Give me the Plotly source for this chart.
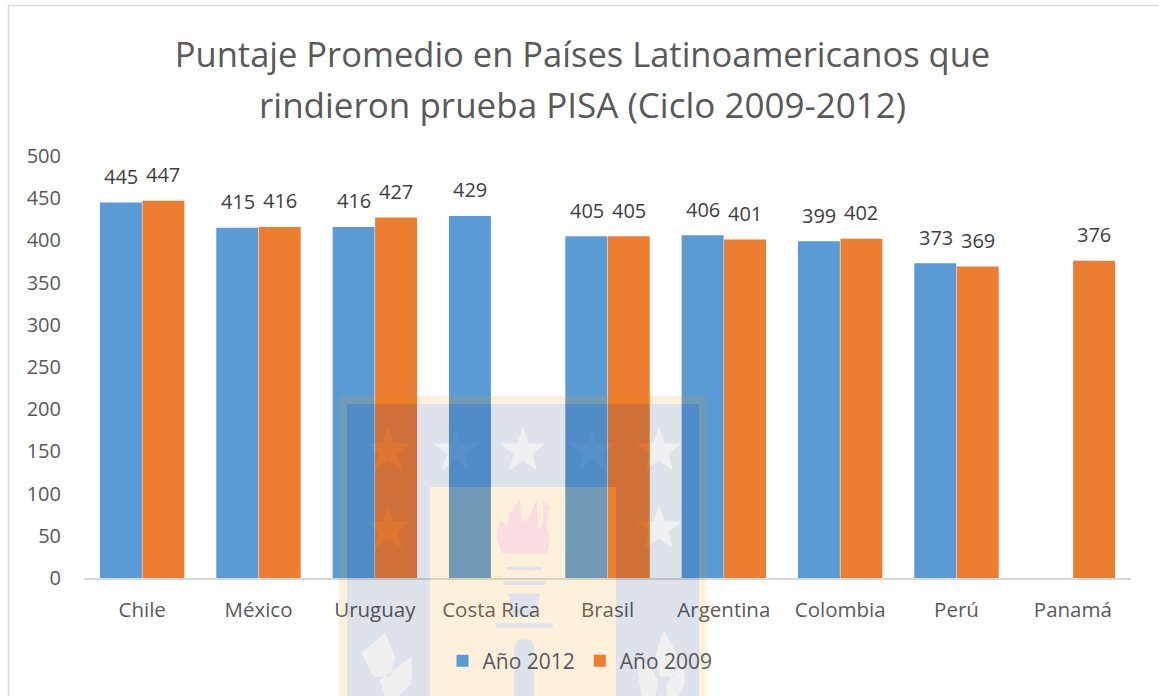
import math
import plotly.graph_objects as go

categories = ["Chile", "México", "Uruguay", "Costa Rica", "Brasil", "Argentina", "Colombia", "Perú", "Panamá"]
values_2012 = [445, 415, 416, 429, 405, 406, 399, 373, None]
values_2009 = [447, 416, 427, None, 405, 401, 402, 369, 376]
series_names = ["Año 2012", "Año 2009"]
title_line_1 = "Puntaje Promedio en Países Latinoamericanos que"
title_line_2 = "rindieron prueba PISA (Ciclo 2009-2012)"
y_ticks = [0, 50, 100, 150, 200, 250, 300, 350, 400, 450, 500]

W, H = 1159, 696
ML, MR, MT, MB = 84, 28, 156, 118
FONT = "Open Sans"
TEXT = "#595959"

def px(x):
    return (x - ML) / (W - ML - MR)

def py(y):
    return 1 - (y - MT) / (H - MT - MB)

def poly(points):
    return "M" + " L".join(f"{px(x):.5f},{py(y):.5f}" for x, y in points) + " Z "

def rect(x0, y0, x1, y1):
    return poly([(x0, y0), (x1, y0), (x1, y1), (x0, y1)])

def star(cx, cy, r=24):
    pts = []
    for i in range(10):
        rad = r if i % 2 == 0 else r * 0.4
        a = -math.pi / 2 + i * math.pi / 5
        pts.append((cx + rad * math.cos(a), cy + rad * math.sin(a)))
    return poly(pts)

def zoomed(points):
    return poly([(330 + x / 3, 390 + y / 3) for x, y in points])

stars = "".join(star(x, y) for x, y in [(388, 451), (456, 451), (523, 451), (592, 451), (659, 451), (388, 529), (659, 529)])
fleurs = "".join(zoomed(p) for p in [
    [(95, 790), (165, 728), (195, 800), (180, 860), (130, 860)],
    [(150, 870), (205, 830), (245, 800), (245, 880), (205, 918), (165, 918)],
    [(915, 800), (965, 830), (985, 880), (975, 918), (935, 918)],
    [(975, 800), (1000, 720), (1040, 790), (1030, 860), (990, 860)],
    [(1010, 880), (1060, 810), (1065, 880), (1045, 918), (1010, 918)],
])
torch = "".join(zoomed(p) for p in [
    [(530, 530), (635, 530), (635, 541), (530, 541)],
    [(520, 573), (645, 573), (645, 585), (520, 585)],
    [(535, 610), (630, 610), (615, 680), (550, 680)],
    [(497, 700), (668, 700), (668, 713), (497, 713)],
    [(552, 918), (552, 770), (565, 748), (600, 748), (613, 770), (613, 918)],
])
flame = zoomed([(515, 490), (500, 440), (510, 390), (530, 410), (545, 360), (570, 330), (575, 400), (600, 380),
                (620, 325), (625, 420), (640, 400), (640, 330), (660, 350), (650, 400), (660, 460), (650, 490)])
center = rect(430, 487, 616, 696)
inner = rect(347, 404, 699, 696)
outer = rect(339, 396, 706, 696)

def overlay(path, color):
    return dict(type="path", xref="paper", yref="paper", path=path, fillcolor=color,
                line=dict(width=0), layer="above")

shapes = [
    dict(type="rect", xref="paper", yref="paper", x0=px(8.5), x1=px(1170), y0=py(5.5), y1=py(710),
         line=dict(color="#D9D9D9", width=1.5), fillcolor="rgba(0,0,0,0)", layer="below"),
    overlay(inner + center + stars + fleurs, "rgba(0,30,100,0.13)"),
    overlay(outer + inner + center + torch + flame, "rgba(250,155,7,0.145)"),
    overlay(torch, "rgba(0,30,100,0.13)"),
    overlay(flame, "rgba(235,50,90,0.17)"),
    overlay(stars + fleurs, "rgba(0,0,0,0.06)"),
]

fig = go.Figure()
for name, values, color in zip(series_names, [values_2012, values_2009], ["#5B9BD5", "#ED7D31"]):
    fig.add_bar(name=name, x=categories, y=values, marker=dict(color=color, line=dict(width=0)), cliponaxis=False)

annotations = []
for values, shift in [(values_2012, -21), (values_2009, 21)]:
    for cat, val in zip(categories, values):
        if val is not None:
            annotations.append(dict(x=cat, y=val, xref="x", yref="y", text=str(val), showarrow=False,
                                    xshift=shift, yshift=26, font=dict(family=FONT, size=20, color="#404040")))
annotations.append(dict(text=title_line_2, xref="paper", yref="paper", x=px(582), y=py(104), xanchor="center",
                        yanchor="middle", showarrow=False, font=dict(family=FONT, size=35, color=TEXT)))

fig.update_layout(
    width=W, height=H, autosize=False,
    margin=dict(l=ML, r=MR, t=MT, b=MB, pad=0),
    paper_bgcolor="white", plot_bgcolor="rgba(0,0,0,0)",
    barmode="group", bargap=0.27, bargroupgap=0.012,
    title=dict(text=title_line_1, x=582.5 / W, xanchor="center", y=1 - 55 / H, yanchor="middle",
               font=dict(family=FONT, size=34.5, color=TEXT)),
    font=dict(family=FONT, size=20, color=TEXT),
    legend=dict(orientation="h", x=580 / W, xref="container", xanchor="center", y=1 - 661 / H, yref="container",
                yanchor="middle", font=dict(family=FONT, size=21, color=TEXT), itemwidth=30, bgcolor="rgba(0,0,0,0)"),
    shapes=shapes, annotations=annotations,
    xaxis=dict(showgrid=False, zeroline=False, showline=True, linecolor="#D9D9D9", linewidth=2, ticks="",
               ticklabelstandoff=12, tickfont=dict(family=FONT, size=20.5, color=TEXT)),
    yaxis=dict(range=[0, 500], tickvals=y_ticks, showgrid=False, zeroline=False, showline=False, ticks="",
               ticklabelstandoff=22, tickfont=dict(family=FONT, size=20, color=TEXT)),
)
fig.write_html("out.html", config=dict(displayModeBar=False), post_script="document.body.style.margin='0';")
